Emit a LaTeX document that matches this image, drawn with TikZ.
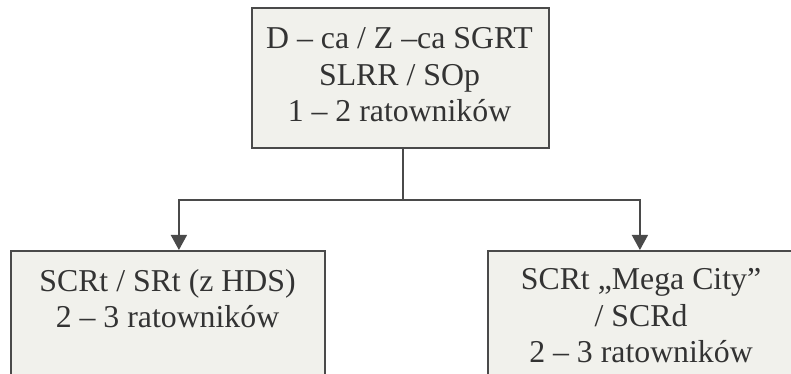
\documentclass[tikz,border=0pt]{standalone}
\usepackage{fontspec}
\setmainfont{Liberation Serif}
\usetikzlibrary{arrows.meta}
\definecolor{boxfill}{HTML}{F1F1EC}
\definecolor{linec}{HTML}{4A4A4A}
\begin{document}
\begin{tikzpicture}[x=1pt,y=1pt,
  box/.style={draw=linec, line width=1.8pt, fill=boxfill, inner sep=0pt},
  txt/.style={align=center, font=\fontsize{31.8}{36.8}\selectfont, text=black!80, inner sep=0pt, anchor=base},
  conn/.style={draw=linec, line width=1.6pt, -{Triangle[length=15pt,width=16pt]}}]
\useasboundingbox (0,0) rectangle (791,374);
\clip (0,0) rectangle (791,374);
\node[box, minimum width=297pt, minimum height=140pt, anchor=north west] (top) at (251,367) {};
\node[box, minimum width=314pt, minimum height=150pt, anchor=north west] (left) at (10,124) {};
\node[box, minimum width=320pt, minimum height=150pt, anchor=north west] (right) at (487,124) {};
\node[txt] (toptext) at (399.5,252) {D – ca / Z –ca SGRT\\SLRR / SOp\\1 – 2 ratowników};
\node[txt] (lefttext) at (167.5,46) {SCRt / SRt (z HDS)\\2 – 3 ratowników};
\node[txt] (righttext) at (641,11) {SCRt „Mega City”\\/ SCRd\\2 – 3 ratowników};
\draw[conn] ([xshift=2.5pt]top.south) -- ++(0,-51) -| ([xshift=11pt]left.north);
\draw[conn] ([xshift=2.5pt]top.south) -- ++(0,-51) -| ([xshift=-8pt]right.north);
\end{tikzpicture}
\end{document}
